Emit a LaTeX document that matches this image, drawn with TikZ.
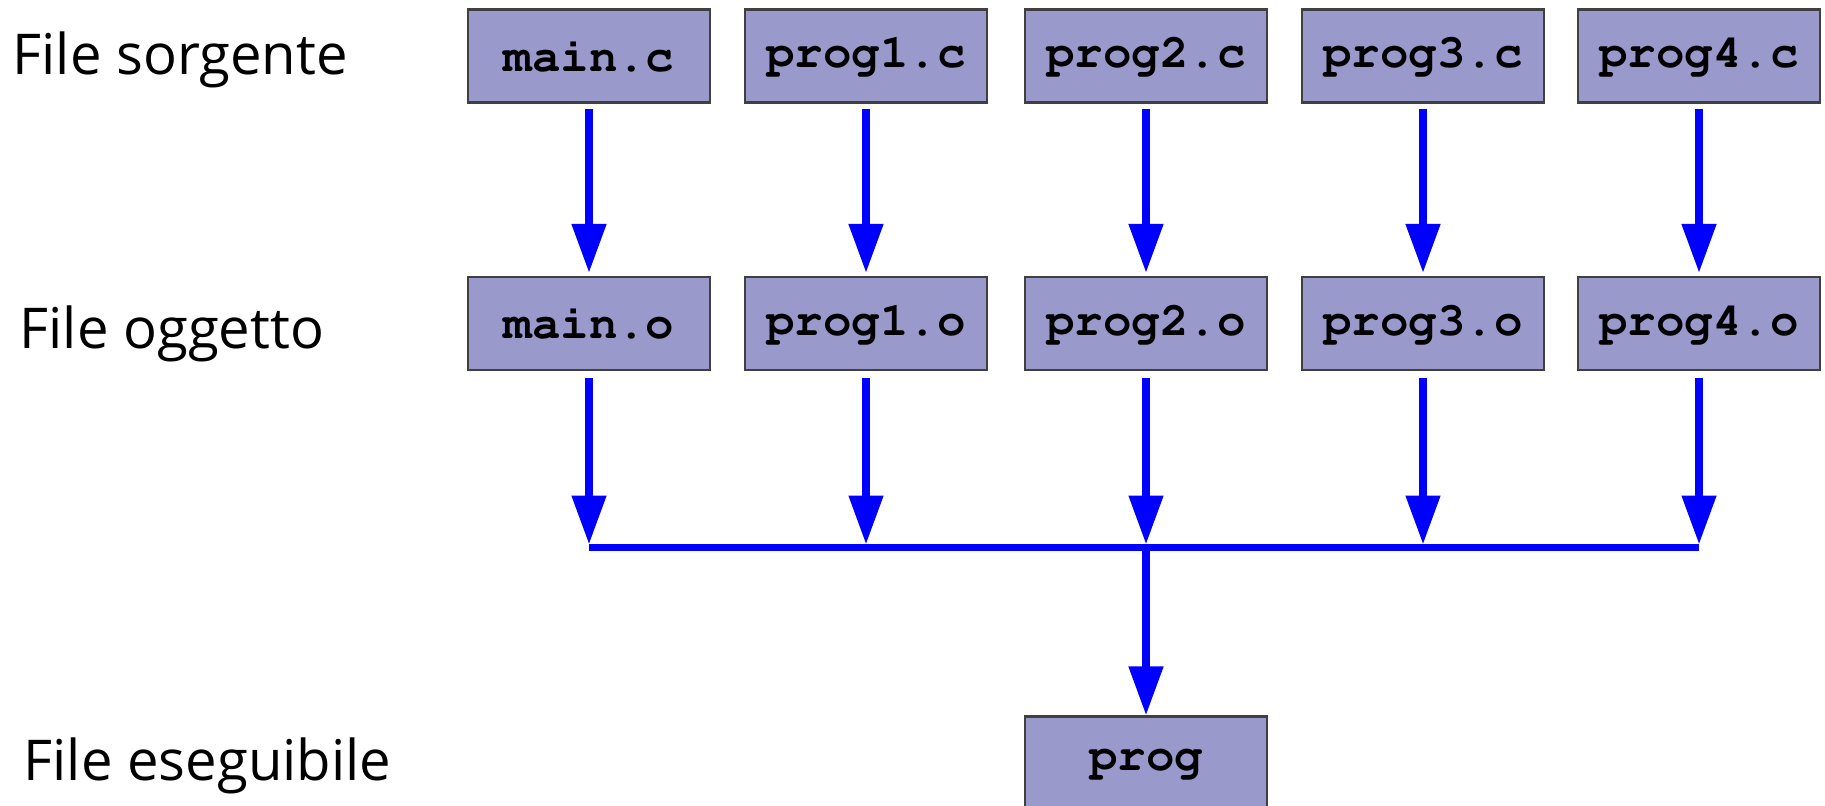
\documentclass[tikz,border=0pt]{standalone}
\usepackage[T1]{fontenc}
\usepackage{fontspec}
\setmainfont{Open Sans}
\usetikzlibrary{arrows.meta}
\definecolor{boxfill}{RGB}{153,153,204}
\definecolor{flow}{RGB}{0,0,255}
% Courier bold for the file names
\newcommand{\fnamefont}{\fontencoding{T1}\fontfamily{pcr}\fontseries{b}\fontsize{13.5}{16}\selectfont}
\tikzstyle{filebox} = [rectangle, minimum width=2.42cm, minimum height=0.93cm, inner sep=0pt, text centered, draw=black!75, line width=0.6pt, fill=boxfill, font=\fnamefont]
\tikzstyle{kind} = [anchor=base west, inner sep=0pt, font=\fontsize{16}{19}\selectfont]
\tikzstyle{flowline} = [draw=flow, line width=0.078cm]
\tikzstyle{flowarrow} = [flowline, -{Triangle[length=0.49cm,width=0.33cm]}]

\begin{document}
\begin{tikzpicture}
    \useasboundingbox (0,0) rectangle (18.25,-8.06);

    \node at (0.12,-0.75) [kind] (srclabel) {File sorgente};
    \node at (0.19,-3.49) [kind] (objlabel) {File oggetto};
    \node at (0.23,-7.80) [kind] (exelabel) {File eseguibile};

    \node at (5.89,-0.56) [filebox] (mainc) {main.c};
    \node at (8.66,-0.56) [filebox] (prog1c) {prog1.c};
    \node at (11.46,-0.56) [filebox] (prog2c) {prog2.c};
    \node at (14.23,-0.56) [filebox] (prog3c) {prog3.c};
    \node at (16.99,-0.56) [filebox] (prog4c) {prog4.c};

    \node at (5.89,-3.235) [filebox] (maino) {main.o};
    \node at (8.66,-3.235) [filebox] (prog1o) {prog1.o};
    \node at (11.46,-3.235) [filebox] (prog2o) {prog2.o};
    \node at (14.23,-3.235) [filebox] (prog3o) {prog3.o};
    \node at (16.99,-3.235) [filebox] (prog4o) {prog4.o};

    \node at (11.46,-7.63) [filebox] (prog) {prog};

    % the link bus
    \coordinate (bus0) at (5.89,-5.475);
    \coordinate (bus1) at (8.66,-5.475);
    \coordinate (bus2) at (11.46,-5.475);
    \coordinate (bus3) at (14.23,-5.475);
    \coordinate (bus4) at (16.99,-5.475);

    \draw[flowarrow, shorten <=0.05cm, shorten >=0.03cm] (mainc) -- (maino);
    \draw[flowarrow, shorten <=0.05cm, shorten >=0.03cm] (prog1c) -- (prog1o);
    \draw[flowarrow, shorten <=0.05cm, shorten >=0.03cm] (prog2c) -- (prog2o);
    \draw[flowarrow, shorten <=0.05cm, shorten >=0.03cm] (prog3c) -- (prog3o);
    \draw[flowarrow, shorten <=0.05cm, shorten >=0.03cm] (prog4c) -- (prog4o);

    \draw[flowarrow, shorten <=0.07cm, shorten >=0.03cm] (maino) -- (bus0);
    \draw[flowarrow, shorten <=0.07cm, shorten >=0.03cm] (prog1o) -- (bus1);
    \draw[flowarrow, shorten <=0.07cm, shorten >=0.03cm] (prog2o) -- (bus2);
    \draw[flowarrow, shorten <=0.07cm, shorten >=0.03cm] (prog3o) -- (bus3);
    \draw[flowarrow, shorten <=0.07cm, shorten >=0.03cm] (prog4o) -- (bus4);

    \draw[flowline] (bus0) -- (bus4);
    \draw[flowarrow] (bus2) -- (prog);
\end{tikzpicture}
\end{document}
